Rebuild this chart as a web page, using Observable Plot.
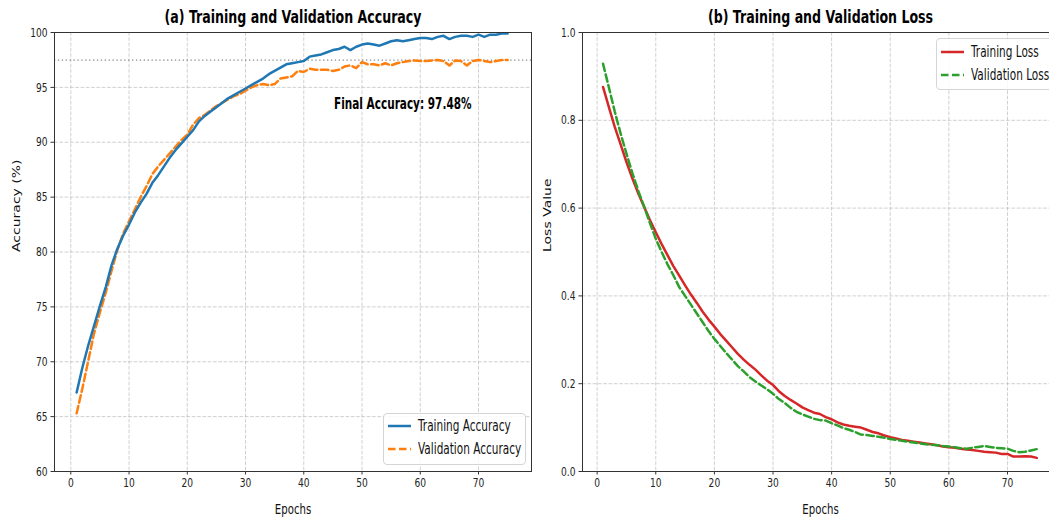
<!DOCTYPE html>
<html><head><meta charset="utf-8">
<script src="https://cdn.jsdelivr.net/npm/d3@7"></script>
<script src="https://cdn.jsdelivr.net/npm/@observablehq/plot@0.6"></script>
<style>
html,body{margin:0;padding:0;background:#fff}
body{width:1049px;height:521px;overflow:hidden;position:relative;font-family:"DejaVu Sans",sans-serif}
#left{position:absolute;left:0;top:0}
#right{position:absolute;left:540px;top:0;width:520px}
svg{max-width:none !important}
.legend{position:absolute;background:rgba(255,255,255,0.85);border:1px solid #d5d5d5;border-radius:4px;box-sizing:border-box;font-size:15px;color:#111}
.legend .row{position:absolute;left:0;height:20px;display:flex;align-items:center}
.legend svg{display:block}
.legend span{display:inline-block;transform:scaleX(0.7);transform-origin:0 50%;white-space:nowrap;margin-left:6px}
</style>
</head><body>
<div id="left"></div>
<div id="right"></div>
<script>
// ---- data ----
const epochs = Array.from({length: 75}, (_, i) => i + 1);
const trainAcc = [67.2,69.5,71.5,73.3,75.1,76.8,78.8,80.3,81.5,82.5,83.6,84.5,85.3,86.3,87.0,87.8,88.6,89.3,89.9,90.5,
  91.1,91.9,92.4,92.8,93.2,93.6,94.0,94.3,94.6,94.9,95.2,95.5,95.8,96.2,96.5,96.8,97.1,97.2,97.3,97.4,
  97.8,97.9,98.0,98.2,98.4,98.5,98.7,98.4,98.7,98.9,99.0,98.9,98.8,99.0,99.2,99.3,99.2,99.3,99.4,99.5,
  99.5,99.4,99.6,99.7,99.4,99.6,99.7,99.7,99.6,99.8,99.6,99.8,99.8,99.9,99.9];
const valAcc = [65.3,67.6,70.1,72.6,74.5,76.3,78.3,80.2,81.7,82.8,83.9,85.0,86.0,87.1,87.8,88.4,89.0,89.6,90.2,90.7,
  91.6,92.2,92.5,92.9,93.3,93.6,93.9,94.2,94.4,94.7,95.0,95.2,95.3,95.2,95.3,95.8,95.9,96.0,96.5,96.4,
  96.7,96.6,96.6,96.6,96.5,96.6,96.9,97.0,96.75,97.3,97.1,97.1,97.0,97.2,97.0,97.2,97.3,97.4,97.45,97.4,
  97.4,97.45,97.5,97.4,97.0,97.45,97.4,97.0,97.4,97.5,97.4,97.3,97.4,97.5,97.5];
const trainLoss = [0.876,0.830,0.785,0.745,0.705,0.668,0.634,0.603,0.573,0.545,0.518,0.493,0.468,0.446,0.424,0.403,0.384,0.364,0.346,0.330,
  0.313,0.298,0.283,0.268,0.255,0.243,0.232,0.219,0.207,0.197,0.183,0.172,0.163,0.155,0.146,0.140,0.134,0.131,0.124,0.119,
  0.112,0.107,0.104,0.102,0.100,0.095,0.090,0.087,0.082,0.078,0.075,0.072,0.070,0.068,0.066,0.064,0.062,0.060,0.057,0.055,
  0.054,0.052,0.050,0.049,0.047,0.045,0.044,0.043,0.040,0.040,0.034,0.034,0.035,0.034,0.031];
const valLoss = [0.929,0.875,0.820,0.770,0.724,0.680,0.640,0.604,0.566,0.530,0.500,0.472,0.447,0.420,0.400,0.380,0.360,0.340,0.320,0.302,
  0.286,0.270,0.255,0.240,0.228,0.215,0.205,0.196,0.187,0.177,0.165,0.156,0.145,0.136,0.130,0.125,0.120,0.117,0.116,0.110,
  0.105,0.099,0.095,0.090,0.084,0.083,0.081,0.079,0.077,0.074,0.072,0.070,0.068,0.066,0.064,0.062,0.061,0.060,0.058,0.057,
  0.055,0.053,0.052,0.054,0.056,0.058,0.056,0.054,0.053,0.052,0.047,0.044,0.045,0.048,0.051];
const epochTicks = [0,10,20,30,40,50,60,70];
const accTicks = [60,65,70,75,80,85,90,95,100];
const lossTicks = [0.0,0.2,0.4,0.6,0.8,1.0];
const finalAcc = 97.48;
const titles = ["(a) Training and Validation Accuracy", "(b) Training and Validation Loss"];
const accSeries = ["Training Accuracy", "Validation Accuracy"];
const lossSeries = ["Training Loss", "Validation Loss"];

// ---- styles ----
const FONT = '"DejaVu Sans",sans-serif';
const SQ = 0.7; // horizontal squeeze of glyphs seen in the reference
const GRID = {stroke: "#b0b0b0", strokeOpacity: 0.75, strokeDasharray: "3.7,1.6", strokeWidth: 0.8};
const LW = 2.5;
const DASH = "7.5,3.5";

const accData = epochs.map((e, i) => ({epoch: e, train: trainAcc[i], val: valAcc[i]}));
const lossData = epochs.map((e, i) => ({epoch: e, train: trainLoss[i], val: valLoss[i]}));

function axes(xTicks, yTicks, yFormat) {
  return [
    Plot.axisX(xTicks, {tickSize: 3.5, tickPadding: 3, fontSize: 13, label: null, stroke: "#333", color: "#222"}),
    Plot.axisY(yTicks, {tickSize: 3.5, tickPadding: 3.5, fontSize: 13, label: null, tickFormat: yFormat, stroke: "#333", color: "#222"})
  ];
}

function squash(svg) {
  svg.querySelectorAll("text").forEach(t => {
    const tr = t.getAttribute("transform") || "";
    const rotated = /rotate\(/.test(tr);
    const x = parseFloat(t.getAttribute("x")) || 0, y = parseFloat(t.getAttribute("y")) || 0;
    t.setAttribute("transform", `${tr} translate(${x},${y}) ${rotated ? `scale(1,${SQ})` : `scale(${SQ},1)`} translate(${-x},${-y})`);
  });
  return svg;
}

const left = Plot.plot({
  width: 540, height: 521,
  marginLeft: 54, marginRight: 9, marginTop: 32, marginBottom: 50,
  style: {fontFamily: FONT, fontSize: "13px", background: "transparent", overflow: "visible", color: "#222", maxWidth: "none"},
  x: {domain: [-2.8, 79.1]},
  y: {domain: [60, 100]},
  marks: [
    Plot.ruleX(epochTicks, {x: d => d, ...GRID}),
    Plot.ruleY(accTicks, {y: d => d, ...GRID}),
    Plot.ruleY([finalAcc], {y: d => d, stroke: "#888", strokeWidth: 1.3, strokeDasharray: "1.3,2.6"}),
    Plot.line(accData, {x: "epoch", y: "val", stroke: "#ff7f0e", strokeWidth: LW, strokeDasharray: DASH}),
    Plot.line(accData, {x: "epoch", y: "train", stroke: "#1f77b4", strokeWidth: LW}),
    Plot.text([`Final Accuracy: ${finalAcc.toFixed(2)}%`], {x: 57, y: 93.5, fontWeight: "bold", fontSize: 15, fill: "#000"}),
    ...axes(epochTicks, accTicks, d => d),
    Plot.frame({stroke: "#333", strokeWidth: 1}),
    Plot.text([titles[0]], {frameAnchor: "top", dy: -15, lineAnchor: "middle", fontWeight: "bold", fontSize: 18, fill: "#000"}),
    Plot.text(["Epochs"], {frameAnchor: "bottom", dy: 38, lineAnchor: "middle", fontSize: 14.5, fill: "#111"}),
    Plot.text(["Accuracy (%)"], {frameAnchor: "left", dx: -38, rotate: -90, lineAnchor: "middle", fontSize: 14, fill: "#111"})
  ]
});
document.getElementById("left").appendChild(squash(left));

const right = Plot.plot({
  width: 520, height: 521,
  marginLeft: 42, marginRight: 2, marginTop: 32, marginBottom: 50,
  style: {fontFamily: FONT, fontSize: "13px", background: "transparent", overflow: "visible", color: "#222", maxWidth: "none"},
  x: {domain: [-2.5, 78.7]},
  y: {domain: [0, 1]},
  marks: [
    Plot.ruleX(epochTicks, {x: d => d, ...GRID}),
    Plot.ruleY(lossTicks, {y: d => d, ...GRID}),
    Plot.line(lossData, {x: "epoch", y: "train", stroke: "#d62728", strokeWidth: LW}),
    Plot.line(lossData, {x: "epoch", y: "val", stroke: "#2ca02c", strokeWidth: LW, strokeDasharray: DASH}),
    ...axes(epochTicks, lossTicks, d3.format(".1f")),
    Plot.frame({stroke: "#333", strokeWidth: 1}),
    Plot.text([titles[1]], {frameAnchor: "top", dy: -15, lineAnchor: "middle", fontWeight: "bold", fontSize: 18, fill: "#000"}),
    Plot.text(["Epochs"], {frameAnchor: "bottom", dy: 38, lineAnchor: "middle", fontSize: 14.5, fill: "#111"}),
    Plot.text(["Loss Value"], {frameAnchor: "left", dx: -35, rotate: -90, lineAnchor: "middle", fontSize: 14, fill: "#111"})
  ]
});
document.getElementById("right").appendChild(squash(right));

// ---- legends ----
function legend(items, box) {
  const div = document.createElement("div");
  div.className = "legend";
  Object.assign(div.style, {left: box.x + "px", top: box.y + "px", width: box.w + "px", height: box.h + "px"});
  items.forEach((it, i) => {
    const row = document.createElement("div");
    row.className = "row";
    row.style.top = (box.rowY[i] - box.y - 10 - 1) + "px";
    row.style.left = "2px";
    row.innerHTML = `<svg width="26" height="20"><line x1="2" x2="25" y1="10" y2="10" stroke="${it.color}" stroke-width="${LW}" ${it.dash ? `stroke-dasharray="${DASH}"` : ""}/></svg><span>${it.label}</span>`;
    div.appendChild(row);
  });
  document.body.appendChild(div);
}
legend([{label: accSeries[0], color: "#1f77b4"}, {label: accSeries[1], color: "#ff7f0e", dash: true}],
  {x: 383, y: 413, w: 143, h: 52, rowY: [426, 449]});
legend([{label: lossSeries[0], color: "#d62728"}, {label: lossSeries[1], color: "#2ca02c", dash: true}],
  {x: 936, y: 38, w: 125, h: 52, rowY: [52, 75]});
</script>
</body></html>
